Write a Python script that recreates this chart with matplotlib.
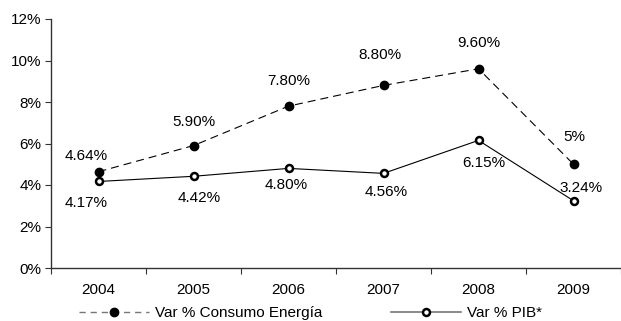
import matplotlib
matplotlib.use("Agg")
import matplotlib.pyplot as plt
from matplotlib.lines import Line2D
from matplotlib.ticker import FuncFormatter

plt.rcParams['font.family'] = ['Liberation Sans', 'DejaVu Sans']

years = ["2004", "2005", "2006", "2007", "2008", "2009"]
consumo = [4.64, 5.90, 7.80, 8.80, 9.60, 5.0]
pib = [4.17, 4.42, 4.80, 4.56, 6.15, 3.24]
consumo_labels = ["4.64%", "5.90%", "7.80%", "8.80%", "9.60%", "5%"]
pib_labels = ["4.17%", "4.42%", "4.80%", "4.56%", "6.15%", "3.24%"]

FS = 11
fig = plt.figure(figsize=(6.21, 3.21), dpi=100)
ax = fig.add_axes([51/621, 53/321, 1 - 51/621, (268-19)/321])

x = list(range(len(years)))
ax.plot(x, consumo, color='black', lw=0.8, dashes=(7.2, 4.5), marker='o',
        markersize=6, markerfacecolor='black', markeredgecolor='black')
ax.plot(x, pib, color='black', lw=0.8, marker='o', markersize=5,
        markerfacecolor='white', markeredgecolor='black', markeredgewidth=1.8)

c_off = [(-12, 16), (0, 24), (0, 25), (-4, 30), (0, 26), (1, 27)]
p_off = [(-12, -22), (6, -22), (-2, -17), (3, -19), (5, -23), (8, 13)]
for i in x:
    ax.annotate(consumo_labels[i], (x[i], consumo[i]), xytext=c_off[i],
                textcoords='offset pixels', ha='center', va='center', fontsize=FS)
    ax.annotate(pib_labels[i], (x[i], pib[i]), xytext=p_off[i],
                textcoords='offset pixels', ha='center', va='center', fontsize=FS)

ax.set_ylim(0, 12)
ax.set_yticks(range(0, 13, 2))
ax.yaxis.set_major_formatter(FuncFormatter(lambda v, p: f"{int(v)}%"))
ax.set_xlim(-0.5, (621 - 51) / 97 - 0.5)
ax.set_xticks([i + 0.5 for i in range(-1, 6)])
ax.set_xticklabels([])
ax.set_xticks(x, minor=True)
ax.set_xticklabels(years, minor=True)
ax.tick_params(axis='x', which='minor', length=0, pad=11, labelsize=FS)
ax.tick_params(axis='x', which='major', length=4, color='#333333')
ax.tick_params(axis='y', length=4, labelsize=FS, color='#333333', pad=3)
for s in ['top', 'right']:
    ax.spines[s].set_visible(False)
for s in ['left', 'bottom']:
    ax.spines[s].set_color('#333333')
    ax.spines[s].set_linewidth(1.0)

h1 = Line2D([], [], color='#777777', lw=1.0, dashes=(4.5, 3.5), marker='o', markersize=6,
            markerfacecolor='black', markeredgecolor='black')
h2 = Line2D([], [], color='#777777', lw=1.2, marker='o', markersize=5,
            markerfacecolor='white', markeredgecolor='black', markeredgewidth=1.8)
fig.legend([h1, h2], ["Var % Consumo Energía", "Var % PIB*"], loc='center',
           bbox_to_anchor=(0.5, 1 - 313/321), ncol=2, frameon=False, fontsize=FS,
           handlelength=4.6, columnspacing=4.5, handletextpad=0.4, borderpad=0)

fig.savefig("out.png", dpi=100)
